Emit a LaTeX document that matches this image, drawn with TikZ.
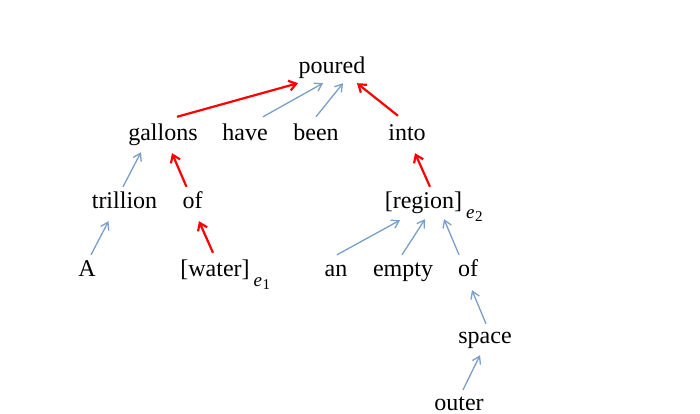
\documentclass[tikz,border=0pt]{standalone}
\usepackage{fontspec}
\setmainfont{Liberation Serif}
\usetikzlibrary{arrows.meta}
\definecolor{depblue}{RGB}{122,158,200}
\definecolor{depred}{RGB}{255,0,0}
\tikzset{
  word/.style={inner sep=0pt, text height=17pt, text depth=5pt, anchor=base, font=\fontsize{24}{28}\selectfont},
  bluearr/.style={draw=depblue, line width=1.3pt, -{Straight Barb[length=7pt,width=9pt]}},
  redarr/.style={draw=depred, line width=2.2pt, -{Straight Barb[length=7pt,width=10pt]}}
}
\newcommand{\subidx}[1]{\rlap{\kern4pt\raisebox{-10pt}{\fontsize{19}{19}\selectfont\textit{e}\kern0.5pt\raisebox{-3pt}{\fontsize{15}{15}\selectfont #1}}}}
\begin{document}
\begin{tikzpicture}[x=1pt,y=-1pt]
\useasboundingbox (0,0) rectangle (700,414);
% row 1
\node[word] (poured) at (332,74) {poured};
% row 2
\node[word] (gallons) at (163,141) {gallons};
\node[word] (have) at (245,141) {have};
\node[word] (been) at (316,141) {been};
\node[word] (into) at (407,141) {into};
% row 3
\node[word] (trillion) at (124.5,208) {trillion};
\node[word] (of1) at (192.5,208) {of};
\node[word] (region) at (423.5,208) {[region]\subidx{2}};
% row 4
\node[word] (A) at (87,276) {A};
\node[word] (water) at (215,276) {[water]\subidx{1}};
\node[word] (an) at (336,276) {an};
\node[word] (empty) at (403,276) {empty};
\node[word] (of2) at (468,276) {of};
% row 5
\node[word] (space) at (485,343) {space};
% row 6
\node[word] (outer) at (459,410) {outer};
% arrows
\draw[redarr] ([shift={(14,-7)}]gallons.north) -- ([shift={(-34,4)}]poured.south);
\draw[bluearr] ([shift={(18,-7)}]have.north) -- ([shift={(-9,4)}]poured.south);
\draw[bluearr] ([shift={(0,-7)}]been.north) -- ([shift={(11,4)}]poured.south);
\draw[redarr] ([shift={(-9,-8)}]into.north) -- ([shift={(25,4)}]poured.south);
\draw[bluearr] ([shift={(-1.5,-4)}]trillion.north) -- ([shift={(-22,6)}]gallons.south);
\draw[redarr] ([shift={(-6,-4)}]of1.north) -- ([shift={(9,7)}]gallons.south);
\draw[bluearr] ([shift={(4,-4)}]A.north) -- ([shift={(-16,8)}]trillion.south);
\draw[redarr] ([shift={(-2,-6)}]water.north) -- ([shift={(6.5,8)}]of1.south);
\draw[redarr] ([shift={(6.5,-4)}]region.north) -- ([shift={(8,7)}]into.south);
\draw[bluearr] ([shift={(1,-4)}]an.north) -- ([shift={(-23.5,7)}]region.south);
\draw[bluearr] ([shift={(-1,-4)}]empty.north) -- ([shift={(1.5,6)}]region.south);
\draw[bluearr] ([shift={(-9,-4)}]of2.north) -- ([shift={(20.5,6)}]region.south);
\draw[bluearr] ([shift={(1,-2)}]space.north) -- ([shift={(4,9)}]of2.south);
\draw[bluearr] ([shift={(4,-3)}]outer.north) -- ([shift={(-5,7)}]space.south);
\end{tikzpicture}
\end{document}
